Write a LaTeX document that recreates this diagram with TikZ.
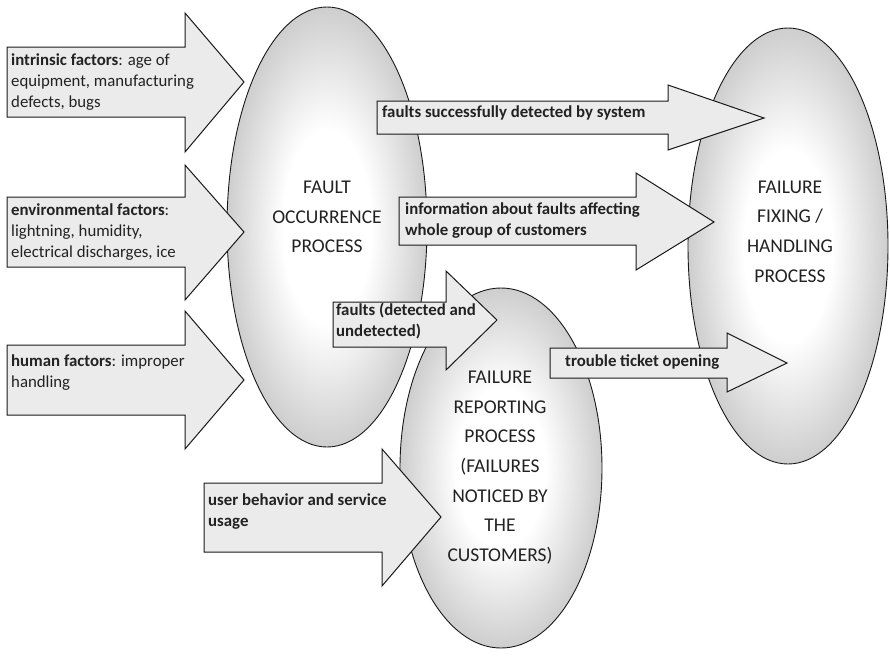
\documentclass[tikz,border=0pt]{standalone}
\usepackage{fontspec}
\setmainfont{Carlito}
\usepackage{tikz}
\definecolor{arrowfill}{HTML}{EBEBEB}
\definecolor{inktext}{HTML}{222222}
\pgfdeclareradialshading{procglow}{\pgfpoint{0bp}{0bp}}{color(0bp)=(white); color(11bp)=(white); color(35bp)=(black!33); color(50bp)=(black!33)}
\tikzset{
  arrowbox/.style={draw=black!90, line width=1pt, fill=arrowfill},
  procshade/.style={draw=black!90, line width=0.9pt, shading=procglow},
  arrowtext/.style={anchor=west, inner sep=0pt, align=left, text=inktext, font=\fontsize{16.8}{21}\selectfont},
  flowtext/.style={arrowtext, font=\fontsize{16.8}{21}\selectfont\bfseries},
  proctext/.style={inner sep=0pt, align=center, text=inktext, font=\fontsize{19.5}{29.6}\selectfont}
}
% (left:body top:body bottom)(head base:head top:head bottom)(tip x:tip y)
\def\blockarrow(#1:#2:#3)(#4:#5:#6)(#7:#8){\draw[arrowbox] (#1,#2) -- (#4,#2) -- (#4,#5) -- (#7,#8) -- (#4,#6) -- (#4,#3) -- (#1,#3) -- cycle;}

\begin{document}
\begin{tikzpicture}[x=1pt, y=-1pt]
			\useasboundingbox (0,0) rectangle (890,664);
			
			%%%%% PROCESSES %%%%%
			\draw[procshade] (327,227) ellipse [x radius=100pt, y radius=220pt];
			\draw[procshade] (501,468) ellipse [x radius=101pt, y radius=180pt];
			\draw[procshade] (788,246) ellipse [x radius=100pt, y radius=218pt];
			
			\node[proctext] (occurrence) at (327,217) {FAULT\\OCCURRENCE\\PROCESS};
			\node[proctext] (reporting) at (500,467.5) {FAILURE\\REPORTING\\PROCESS\\(FAILURES\\NOTICED BY\\THE\\CUSTOMERS)};
			\node[proctext] (fixing) at (790,231.5) {FAILURE\\FIXING /\\HANDLING\\PROCESS};
			
			%%%%% INPUT FACTORS %%%%%
			\blockarrow(7:47:117)(185:13:152)(244:82)
			\blockarrow(7:197:267)(185:165:300)(244:232)
			\blockarrow(7:345:415)(185:311:449)(244:380)
			
			\node[arrowtext] (intrinsic) at (11,82.5) {\textbf{intrinsic factors}: age of\\equipment, manufacturing\\defects, bugs};
			\node[arrowtext] (environ) at (11,232.5) {\textbf{environmental factors}:\\lightning, humidity,\\electrical discharges, ice};
			\node[arrowtext] (human) at (11,373) {\textbf{human factors}: improper\\handling};
			
			%%%%% FLOWS BETWEEN PROCESSES %%%%%
			\blockarrow(377:101:134)(668:85:150)(764:118)
			\blockarrow(399:197:245)(636:173:270)(714:222)
			\blockarrow(333:302:347)(446:271:370)(497:320)
			\blockarrow(550:348:378)(727:333:392)(787:363)
			\blockarrow(204:483:552)(382:449:586)(441:517)
			
			\node[flowtext] (detected) at (382,113) {faults successfully detected by system};
			\node[flowtext] (groupinfo) at (405,220.5) {information about faults affecting\\whole group of customers};
			\node[flowtext] (allfaults) at (336,321) {faults (detected and\\undetected)};
			\node[flowtext] (ticket) at (565,362) {trouble ticket opening};
			\node[flowtext] (usage) at (208,512) {user behavior and service\\usage};
			
			%%%%% END %%%%%
\end{tikzpicture}
\end{document}
